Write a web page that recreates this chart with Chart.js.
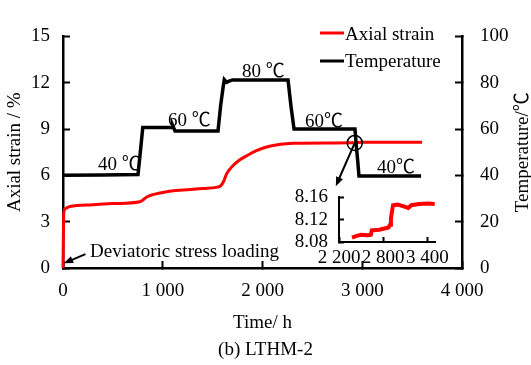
<!DOCTYPE html>
<html>
<head>
<meta charset="utf-8">
<script src="https://cdn.jsdelivr.net/npm/chart.js@4.4.0/dist/chart.umd.min.js"></script>
<style>
    html, body { margin: 0; padding: 0; background: #fff; }
    #wrap { position: relative; width: 531px; height: 365px; }
    #mainChart { position: absolute; left: 0; top: 0; }
    #insetChart { position: absolute; left: 280px; top: 170px; }
</style>
</head>
<body>
<div id="wrap">
    <canvas id="mainChart" width="531" height="365"></canvas>
    <canvas id="insetChart" width="180" height="105"></canvas>
</div>
<script>
// ===================================
// DATA
// ===================================

const tempTime   = [0, 400, 752, 775, 800, 1093, 1100, 1123, 1554, 1580, 1605, 1617, 1640, 1665, 1700, 2000, 2256, 2285, 2316, 2600, 2927, 2940, 2955, 2967, 3300, 3590];
const tempValues = [40.1, 40.2, 40.4, 50, 60.7, 60.7, 61.5, 59.2, 59.2, 70, 78, 81.3, 80.2, 80.7, 81.2, 81.2, 81.2, 70, 60, 60, 60, 53, 46, 39.7, 39.7, 39.7];

const strainTime   = [0, 8, 25, 45, 70, 300, 500, 770, 800, 840, 900, 1040, 1200, 1400, 1545, 1580, 1610, 1640, 1700, 1770, 1850, 1940, 2050, 2150, 2250, 2310, 2900, 3000, 3600];
const strainValues = [0, 3.6, 3.85, 3.92, 3.98, 4.1, 4.17, 4.29, 4.4, 4.6, 4.75, 4.94, 5.05, 5.15, 5.24, 5.32, 5.6, 6.1, 6.6, 7.0, 7.3, 7.6, 7.85, 7.98, 8.05, 8.08, 8.11, 8.14, 8.15];

const insetTime   = [2377, 2439, 2501, 2584, 2633, 2645, 2748, 2872, 2893, 2905, 2921, 2934, 2996, 3079, 3141, 3182, 3285, 3409, 3500];
const insetStrain = [8.088, 8.091, 8.093, 8.092, 8.093, 8.101, 8.102, 8.106, 8.111, 8.122, 8.136, 8.146, 8.147, 8.144, 8.141, 8.146, 8.148, 8.149, 8.148];

const xTicks      = [0, 1000, 2000, 3000, 4000];
const strainTicks = [0, 3, 6, 9, 12, 15];
const tempTicks   = [0, 20, 40, 60, 80, 100];
const insetXTicks = [2200, 2800, 3400];
const insetYTicks = [8.08, 8.12, 8.16];

// ===================================
// HELPERS
// ===================================

const FONT = '"Liberation Serif", "Times New Roman", "Noto Sans CJK SC", serif';
Chart.defaults.font.family = FONT;
Chart.defaults.font.size = 19;
Chart.defaults.color = '#000';

function pairs(xs, ys) {
    return xs.map((x, i) => ({ x: x, y: ys[i] }));
}

function fmt(v) {
    v = Math.round(v);
    if (v < 1000) return String(v);
    return Math.floor(v / 1000) + ' ' + String(v % 1000).padStart(3, '0');
}

function fixedTicks(list) {
    return scale => { scale.ticks = list.map(v => ({ value: v })); };
}

function axisGrid(len) {
    return { drawOnChartArea: false, tickLength: len, tickWidth: 2, color: '#000' };
}

function arrow(ctx, x1, y1, x2, y2, head) {
    const a = Math.atan2(y2 - y1, x2 - x1);
    ctx.beginPath();
    ctx.moveTo(x1, y1);
    ctx.lineTo(x2 - Math.cos(a) * head * 0.7, y2 - Math.sin(a) * head * 0.7);
    ctx.stroke();
    ctx.beginPath();
    ctx.moveTo(x2, y2);
    ctx.lineTo(x2 - head * Math.cos(a - 0.38), y2 - head * Math.sin(a - 0.38));
    ctx.lineTo(x2 - head * Math.cos(a + 0.38), y2 - head * Math.sin(a + 0.38));
    ctx.closePath();
    ctx.fill();
}

// temperature stage labels (time, temperature)
const stageLabels = [
    { text: '40 ℃', t: 351, v: 42.1 },
    { text: '60 ℃', t: 1053, v: 61.5 },
    { text: '80 ℃', t: 1795, v: 82.5 },
    { text: '60℃', t: 2426, v: 60.7 },
    { text: '40℃', t: 3148, v: 40.9 }
];

// ===================================
// ANNOTATIONS
// ===================================

const annotations = {
    id: 'annotations',
    afterDatasetsDraw(chart) {
        const ctx = chart.ctx;
        const x = chart.scales.x, y = chart.scales.y, yT = chart.scales.yT;
        ctx.save();
        ctx.fillStyle = '#000';
        ctx.strokeStyle = '#000';
        ctx.font = '19px ' + FONT;
        ctx.textBaseline = 'alphabetic';
        ctx.textAlign = 'left';

        stageLabels.forEach(l => {
            ctx.fillText(l.text, x.getPixelForValue(l.t), yT.getPixelForValue(l.v));
        });

        // zoom circle + arrow to inset
        const cx = x.getPixelForValue(2925), cy = y.getPixelForValue(8.1);
        ctx.lineWidth = 1.5;
        ctx.beginPath();
        ctx.arc(cx, cy, 7.5, 0, Math.PI * 2);
        ctx.stroke();
        ctx.lineWidth = 2;
        arrow(ctx, cx, cy, x.getPixelForValue(2735), y.getPixelForValue(5.3), 10);

        // deviatoric stress loading
        arrow(ctx, x.getPixelForValue(225), y.getPixelForValue(0.9),
              x.getPixelForValue(8), y.getPixelForValue(0.3), 10);
        ctx.fillText('Deviatoric stress loading', x.getPixelForValue(271), y.getPixelForValue(0.71));

        // legend
        ctx.lineWidth = 3;
        ctx.strokeStyle = '#ff0000';
        ctx.beginPath(); ctx.moveTo(320, 33); ctx.lineTo(344, 33); ctx.stroke();
        ctx.strokeStyle = '#000';
        ctx.beginPath(); ctx.moveTo(320, 61); ctx.lineTo(344, 61); ctx.stroke();
        ctx.fillText('Axial strain', 345, 40);
        ctx.fillText('Temperature', 345, 67);

        // right axis title, reading bottom to top
        ctx.translate(528, (chart.chartArea.top + chart.chartArea.bottom) / 2);
        ctx.rotate(-Math.PI / 2);
        ctx.textAlign = 'center';
        ctx.fillText('Temperature/℃', 0, 0);
        ctx.restore();
    }
};

// ===================================
// MAIN CHART
// ===================================

new Chart(document.getElementById('mainChart'), {
    type: 'line',
    data: {
        datasets: [
            {
                label: 'Temperature',
                data: pairs(tempTime, tempValues),
                yAxisID: 'yT',
                borderColor: '#000',
                borderWidth: 3.5,
                pointRadius: 0,
                tension: 0,
                order: 0,
                clip: false
            },
            {
                label: 'Axial strain',
                data: pairs(strainTime, strainValues),
                yAxisID: 'y',
                borderColor: '#ff0000',
                borderWidth: 3,
                pointRadius: 0,
                cubicInterpolationMode: 'monotone',
                order: 1,
                clip: false
            }
        ]
    },
    options: {
        responsive: false,
        animation: false,
        layout: { padding: { top: 16, left: 0, right: 0, bottom: 0 } },
        plugins: {
            legend: { display: false },
            tooltip: { enabled: false },
            title: {
                display: true,
                text: '(b) LTHM-2',
                position: 'bottom',
                color: '#000',
                font: { size: 19, weight: 'normal' },
                padding: { top: 0, bottom: 4 }
            }
        },
        scales: {
            x: {
                type: 'linear',
                min: 0,
                max: 4000,
                afterBuildTicks: fixedTicks(xTicks),
                ticks: { callback: fmt, padding: 19, maxRotation: 0, autoSkip: false },
                grid: axisGrid(-7),
                border: { color: '#000', width: 2.5 },
                title: { display: true, text: 'Time/ h', padding: { top: 0, bottom: 4 } },
                afterFit: s => { s.height = 70.2; }
            },
            y: {
                position: 'left',
                min: 0,
                max: 15,
                afterBuildTicks: fixedTicks(strainTicks),
                ticks: { callback: v => String(v), padding: 20, autoSkip: false },
                grid: axisGrid(-7),
                border: { color: '#000', width: 2.5 },
                title: { display: true, text: 'Axial strain / %', padding: { top: 4 } },
                afterFit: s => { s.width = 63; }
            },
            yT: {
                position: 'right',
                min: 0,
                max: 100,
                afterBuildTicks: fixedTicks(tempTicks),
                ticks: { callback: v => String(v), padding: 25, autoSkip: false },
                grid: axisGrid(-7),
                border: { color: '#000', width: 2.5 },
                afterFit: s => { s.width = 69; }
            }
        }
    },
    plugins: [annotations]
});

// ===================================
// INSET CHART
// ===================================

new Chart(document.getElementById('insetChart'), {
    type: 'line',
    data: {
        datasets: [{
            data: pairs(insetTime, insetStrain),
            borderColor: '#ff0000',
            borderWidth: 4,
            pointRadius: 0,
            tension: 0,
            clip: false
        }]
    },
    options: {
        responsive: false,
        animation: false,
        layout: { padding: { top: 15, right: 15, left: 0, bottom: 0 } },
        plugins: { legend: { display: false }, tooltip: { enabled: false } },
        scales: {
            x: {
                type: 'linear',
                min: 2200,
                max: 3510,
                afterBuildTicks: fixedTicks(insetXTicks),
                ticks: { callback: fmt, padding: 10, maxRotation: 0, autoSkip: false },
                grid: axisGrid(-5),
                border: { color: '#000', width: 2 },
                afterFit: s => { s.height = 33; }
            },
            y: {
                min: 8.08,
                max: 8.16,
                afterBuildTicks: fixedTicks(insetYTicks),
                ticks: { callback: v => v.toFixed(2), padding: 16, autoSkip: false },
                grid: axisGrid(-5),
                border: { color: '#000', width: 2 },
                afterFit: s => { s.width = 59; }
            }
        }
    }
});
</script>
</body>
</html>
